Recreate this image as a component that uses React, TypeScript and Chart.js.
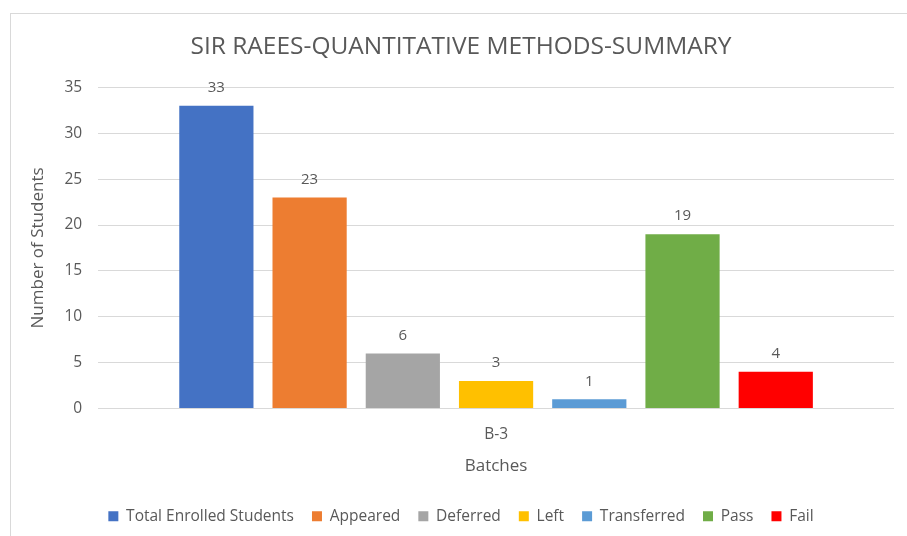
import React, { useEffect, useRef } from "react";
import { Chart, registerables } from "chart.js";

Chart.register(...registerables);

const categories = ["B-3"];
const seriesNames = ["Total Enrolled Students", "Appeared", "Deferred", "Left", "Transferred", "Pass", "Fail"];
const seriesValues = [33, 23, 6, 3, 1, 19, 4];
const seriesColors = ["#4472C4", "#ED7D31", "#A5A5A5", "#FFC000", "#5B9BD5", "#70AD47", "#FF0000"];
const yTicks = [0, 5, 10, 15, 20, 25, 30, 35];

const FONT = "'Open Sans', 'Noto Sans', sans-serif";
const TEXT = "#595959";

const valueLabels = {
  id: "valueLabels",
  afterDatasetsDraw(chart: any) {
    const ctx = chart.ctx;
    ctx.save();
    ctx.font = `15px ${FONT}`;
    ctx.fillStyle = TEXT;
    ctx.textAlign = "center";
    ctx.textBaseline = "middle";
    chart.data.datasets.forEach((ds: any, i: number) => {
      const meta = chart.getDatasetMeta(i);
      meta.data.forEach((el: any, j: number) => {
        ctx.fillText(String(ds.data[j]), el.x, el.y - 18);
      });
    });
    ctx.restore();
  },
};

export default function App() {
  const ref = useRef<HTMLCanvasElement>(null);
  useEffect(() => {
    if (!ref.current) return;
    const chart = new Chart(ref.current, {
      type: "bar",
      data: {
        labels: categories,
        datasets: seriesNames.map((name, i) => ({
          label: name,
          data: [seriesValues[i]],
          backgroundColor: seriesColors[i],
          borderWidth: 0,
        })),
      },
      options: {
        responsive: false,
        animation: false,
        categoryPercentage: 0.82,
        barPercentage: 0.796,
        layout: { padding: { left: 28, right: 13, top: 32, bottom: 2 } },
        plugins: {
          title: {
            display: true,
            text: "SIR RAEES-QUANTITATIVE METHODS-SUMMARY",
            color: TEXT,
            font: { family: FONT, size: 24.5, weight: "normal" },
            padding: { top: 0, bottom: 26 },
          },
          legend: {
            position: "bottom",
            labels: {
              color: TEXT,
              font: { family: FONT, size: 15.5 },
              boxWidth: 10,
              boxHeight: 10,
              padding: 18,
            },
          },
          tooltip: { enabled: false },
        },
        scales: {
          x: {
            grid: { display: false },
            border: { display: false },
            ticks: { color: TEXT, font: { family: FONT, size: 15.5 }, padding: 9 },
            title: {
              display: true,
              text: "Batches",
              color: TEXT,
              font: { family: FONT, size: 17 },
              padding: { top: 3, bottom: 14 },
            },
          },
          y: {
            min: 0,
            max: 35,
            afterBuildTicks: (axis: any) => {
              axis.ticks = yTicks.map((v) => ({ value: v }));
            },
            grid: { color: "#D9D9D9", drawTicks: false },
            border: { display: false },
            ticks: { color: TEXT, font: { family: FONT, size: 15.5 }, padding: 16 },
            title: {
              display: true,
              text: "Number of Students",
              color: TEXT,
              font: { family: FONT, size: 17 },
              padding: { top: 0, bottom: 0 },
            },
          },
        },
      },
      plugins: [valueLabels],
    });
    return () => chart.destroy();
  }, []);
  return (
    <div style={{ position: "fixed", left: 0, top: 0, width: 907, height: 536, background: "#fff", overflow: "hidden" }}>
      <div style={{ position: "absolute", left: 10, top: 13, width: 1000, height: 1000, border: "1px solid #D9D9D9" }} />
      <canvas ref={ref} width={907} height={536} style={{ position: "absolute", left: 0, top: 0 }} />
    </div>
  );
}
